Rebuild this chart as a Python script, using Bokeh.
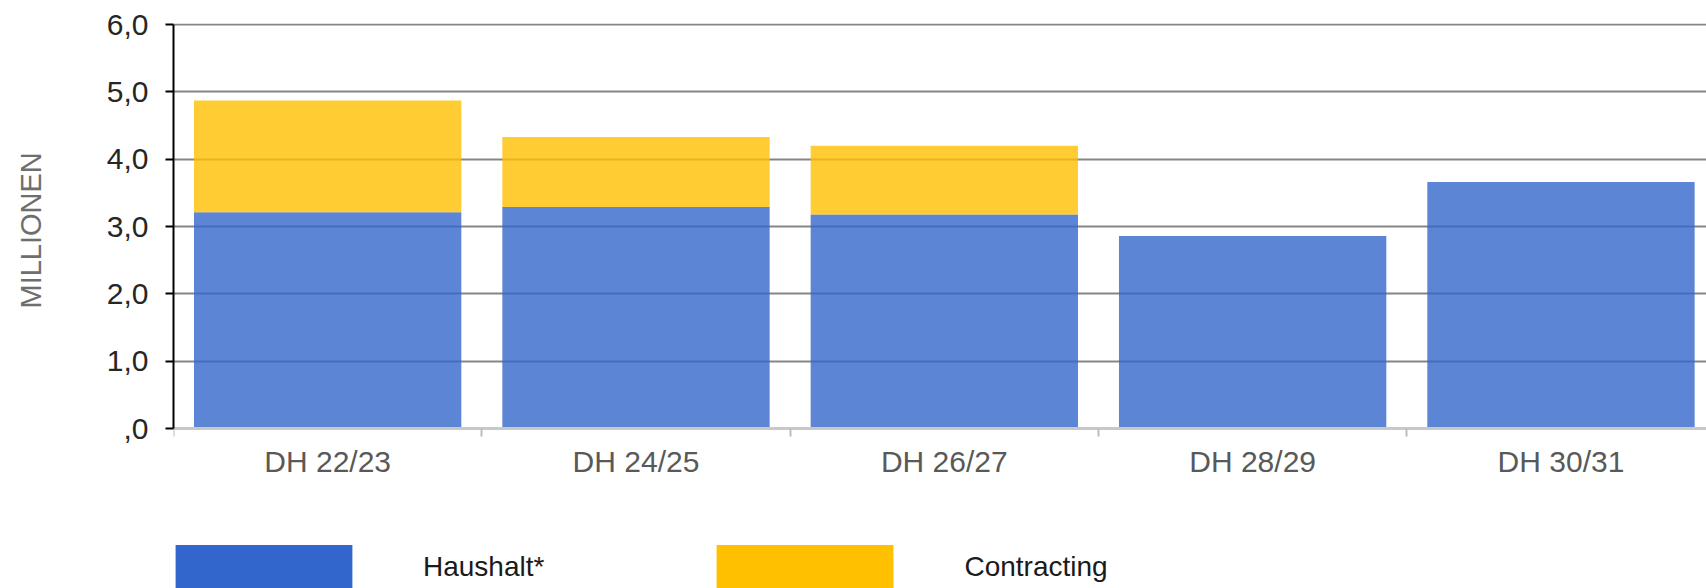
from bokeh.plotting import figure
from bokeh.models import Range1d, FixedTicker, Legend, LegendItem, ColumnDataSource, Title
from bokeh.embed import file_html
from bokeh.resources import INLINE

categories = ["DH 22/23", "DH 24/25", "DH 26/27", "DH 28/29", "DH 30/31"]
haushalt = [3.21, 3.29, 3.18, 2.86, 3.66]
contracting = [1.66, 1.04, 1.02, 0.0, 0.0]
series_names = ["Haushalt*", "Contracting"]
series_colors = ["#3366CC", "#FFC000"]
y_ticks = [0, 1, 2, 3, 4, 5, 6]
y_tick_labels = [",0", "1,0", "2,0", "3,0", "4,0", "5,0", "6,0"]
y_title = "MILLIONEN"

FONT = "Liberation Sans"

x = [i + 0.5 for i in range(len(categories))]
source = ColumnDataSource(dict(x=x, haushalt=haushalt, contracting=contracting))

# the frame reaches down to the page bottom so that the legend can sit under the axis
p = figure(width=1706, height=588, output_backend="svg", toolbar_location=None,
           x_range=Range1d(0, 4.972), y_range=Range1d(-2.376, 6.015),
           min_border_left=169, min_border_right=0, min_border_top=23, min_border_bottom=0)
p.outline_line_color = None
p.background_fill_color = "white"

p.vbar_stack(["haushalt", "contracting"], x="x", width=0.867, fill_color=series_colors,
             fill_alpha=0.8, line_color=None, source=source)

# x axis sits at y = 0
p.xaxis.fixed_location = 0
p.xaxis.ticker = FixedTicker(ticks=x, minor_ticks=list(range(len(categories) + 1)))
p.xaxis.major_label_overrides = {xi: c for xi, c in zip(x, categories)}
p.xaxis.major_tick_line_color = None
p.xaxis.major_tick_out = 0
p.xaxis.major_tick_in = 0
p.xaxis.minor_tick_line_color = "#bdbdbd"
p.xaxis.minor_tick_line_width = 2
p.xaxis.minor_tick_out = 8
p.xaxis.minor_tick_in = 0
p.xaxis.axis_line_color = "#c8c8c8"
p.xaxis.axis_line_width = 3
p.xaxis.major_label_text_font = FONT
p.xaxis.major_label_text_font_size = "30px"
p.xaxis.major_label_text_color = "#595959"
p.xaxis.major_label_standoff = 8

# legend proxies (full colour, zero height bars)
leg_rs = [p.vbar(x=x[:1], top=[0], bottom=[0], width=0.01, fill_color=c, line_color=None)
          for c in series_colors]
legend = Legend(items=[LegendItem(label=n, renderers=[r]) for n, r in zip(series_names, leg_rs)],
                location=(-20, -6), orientation="horizontal", glyph_width=221, glyph_height=55,
                label_standoff=49, spacing=150, padding=0, margin=0,
                border_line_color=None, background_fill_alpha=0,
                label_text_font=FONT, label_text_font_size="28px", label_text_color="#1a1a1a")
p.add_layout(legend, "center")

# y axis
p.yaxis.bounds = (0, 6)
p.yaxis.ticker = FixedTicker(ticks=y_ticks)
p.yaxis.major_label_overrides = {t: l for t, l in zip(y_ticks, y_tick_labels)}
p.yaxis.minor_tick_line_color = None
p.yaxis.major_tick_out = 8
p.yaxis.major_tick_in = 0
p.yaxis.major_tick_line_color = "black"
p.yaxis.major_tick_line_width = 2
p.yaxis.axis_line_color = "black"
p.yaxis.axis_line_width = 2
p.yaxis.major_label_text_font = FONT
p.yaxis.major_label_text_font_size = "30px"
p.yaxis.major_label_text_color = "#262626"
p.yaxis.major_label_standoff = 17
# blank axis label only reserves room between the tick labels and the title
p.yaxis.axis_label = " "
p.yaxis.axis_label_text_font = FONT
p.yaxis.axis_label_text_font_size = "29px"
p.yaxis.axis_label_standoff = 10

# y title, placed beside the 0..6 span rather than the whole frame
p.add_layout(Title(text=y_title, align="left", offset=280, standoff=24,
                   text_font=FONT, text_font_size="29px", text_font_style="normal",
                   text_color="#6e6e6e"), "left")

# grid
p.xgrid.visible = False
p.ygrid.ticker = FixedTicker(ticks=y_ticks[1:])
p.ygrid.grid_line_color = "#858585"
p.ygrid.grid_line_width = 2

open("out.html", "w").write(file_html(p, INLINE))
